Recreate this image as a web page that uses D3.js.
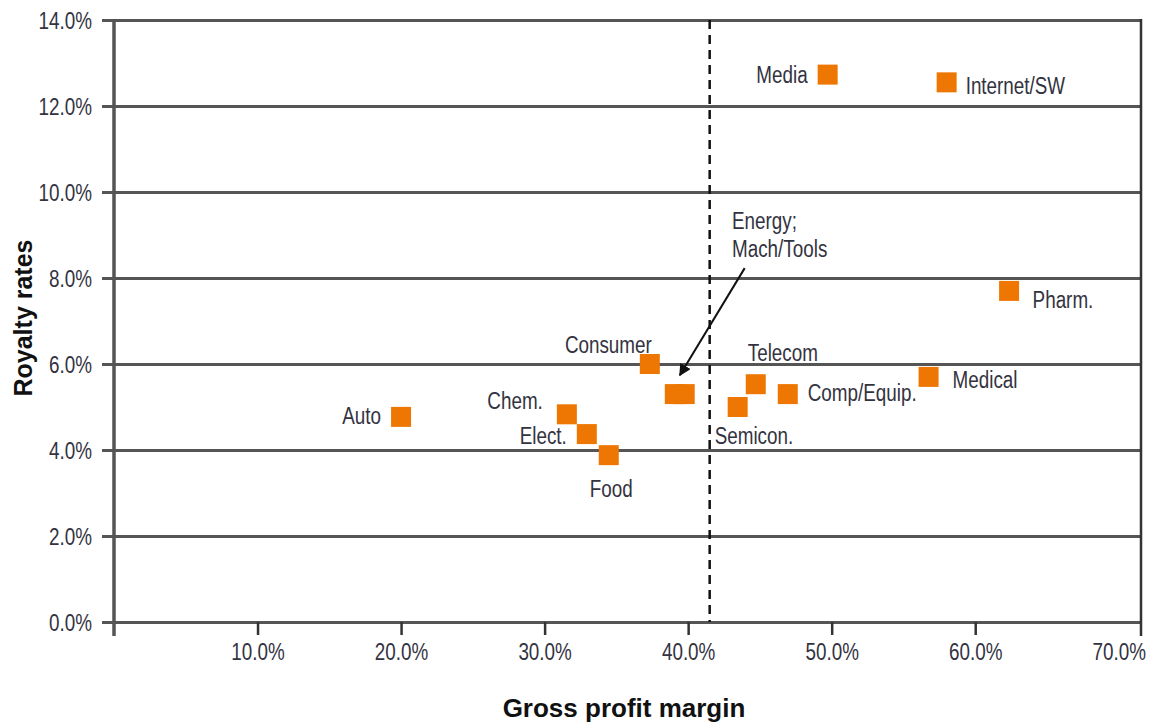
<!DOCTYPE html>
<html>
<head>
<meta charset="utf-8">
<script src="https://cdn.jsdelivr.net/npm/d3@7"></script>
<style>
  body { margin: 0; background: #fff; }
  .tick-label, .pt-label { font-family: "Liberation Sans", Arial, sans-serif; fill: #33333f; }
  .axis-title { font-family: "Liberation Sans", Arial, sans-serif; font-weight: bold; fill: #111; }
</style>
</head>
<body>
<svg id="chart" width="1155" height="722"></svg>
<script>
// industry, gross profit margin, royalty rate
const industries = ["Auto", "Chem.", "Elect.", "Food", "Consumer", "Energy", "Mach/Tools",
    "Semicon.", "Telecom", "Comp/Equip.", "Media", "Medical", "Internet/SW", "Pharm."];
const grossMargin = [0.200, 0.3155, 0.3294, 0.3447, 0.3733, 0.3907, 0.3976,
    0.4345, 0.4471, 0.4694, 0.4972, 0.5675, 0.5801, 0.6236];
const royaltyRate = [0.0477, 0.0483, 0.0437, 0.0388, 0.0600, 0.0530, 0.0530,
    0.0500, 0.0553, 0.0530, 0.1273, 0.0570, 0.1255, 0.0770];

const xTicks = [0.1, 0.2, 0.3, 0.4, 0.5, 0.6, 0.7];
const yTicks = [0, 0.02, 0.04, 0.06, 0.08, 0.10, 0.12, 0.14];
const marginThreshold = 0.415;

// arrow pointing at the Energy / Mach/Tools pair
const arrowFrom = [0.4394, 0.0823];
const arrowTo = [0.3942, 0.0574];

// label placement, px offsets from the marker centre
const labelPos = {
    "Auto": [-20, 7, "end"],
    "Chem.": [-24, -5, "end"],
    "Elect.": [-20, 10, "end"],
    "Food": [-19, 42, "start"],
    "Consumer": [2, -11, "end"],
    "Semicon.": [-23, 37, "start"],
    "Telecom": [-8, -23, "start"],
    "Comp/Equip.": [20, 7, "start"],
    "Media": [-20, 8.5, "end"],
    "Medical": [24, 11, "start"],
    "Internet/SW": [19, 11.5, "start"],
    "Pharm.": [23.5, 17, "start"]
};

const svg = d3.select("#chart");
const plotLeft = 114, plotRight = 1141, plotTop = 20, plotBottom = 622;
const squeeze = 0.82; // fake a condensed face

const x = d3.scaleLinear().domain([0, 0.7155]).range([plotLeft, plotRight]);
const y = d3.scaleLinear().domain([0, 0.14]).range([plotBottom, plotTop]);
const fmt = d3.format(".1%");

const gridColor = "#555";

// horizontal grid lines with short ticks left of the axis
const yAxis = svg.append("g")
    .attr("transform", `translate(${plotLeft},0)`)
    .call(d3.axisLeft(y).tickValues(yTicks).tickSize(-(plotRight - plotLeft)).tickSizeOuter(0).tickFormat(fmt));
yAxis.select(".domain").remove();
yAxis.selectAll(".tick line").attr("x1", -12).attr("stroke", gridColor).attr("stroke-width", 3);
yAxis.selectAll(".tick text").attr("class", "tick-label").style("font-size", "23px")
    .attr("x", -22 / squeeze).attr("dy", "0.36em")
    .attr("transform", `scale(${squeeze},1)`);

// x axis ticks below the 0% line
const xAxis = svg.append("g")
    .attr("transform", `translate(0,${plotBottom})`)
    .call(d3.axisBottom(x).tickValues(xTicks).tickSize(13).tickSizeOuter(0).tickFormat(fmt).tickPadding(8));
xAxis.select(".domain").remove();
xAxis.selectAll(".tick line").attr("stroke", "#333").attr("stroke-width", 2.5)
    .filter(d => d === 0.7).remove();
xAxis.selectAll(".tick text").attr("class", "tick-label").style("font-size", "23px").attr("dy", "0.72em")
    .attr("transform", `scale(${squeeze},1)`);

// frame: left axis and right border, both running past the bottom
svg.append("line").attr("x1", plotLeft).attr("x2", plotLeft).attr("y1", plotTop - 1).attr("y2", plotBottom + 14)
    .attr("stroke", gridColor).attr("stroke-width", 3.5);
svg.append("line").attr("x1", plotRight).attr("x2", plotRight).attr("y1", plotTop - 1).attr("y2", plotBottom + 14)
    .attr("stroke", "#333").attr("stroke-width", 2.5);

// dashed threshold line
svg.append("line")
    .attr("x1", x(marginThreshold)).attr("x2", x(marginThreshold))
    .attr("y1", y(0.14)).attr("y2", y(0))
    .attr("stroke", "#111").attr("stroke-width", 2.5).attr("stroke-dasharray", "9,6");

// markers
const points = industries.map((name, i) => ({ name, gm: grossMargin[i], rr: royaltyRate[i] }));
const size = 20;
svg.append("g").selectAll("rect").data(points).join("rect")
    .attr("x", d => x(d.gm) - size / 2)
    .attr("y", d => y(d.rr) - size / 2)
    .attr("width", size).attr("height", size)
    .attr("fill", "#ee7703");

// point labels
svg.append("g").selectAll("text").data(points.filter(d => labelPos[d.name])).join("text")
    .attr("class", "pt-label")
    .style("font-size", "23px")
    .attr("transform", d => `translate(${x(d.gm) + labelPos[d.name][0]},${y(d.rr) + labelPos[d.name][1]}) scale(${squeeze},1)`)
    .attr("text-anchor", d => labelPos[d.name][2])
    .text(d => d.name);

// annotation for the overlapping pair
const note = svg.append("text").attr("class", "pt-label").style("font-size", "23px")
    .attr("transform", `translate(732,229) scale(${squeeze},1)`);
note.append("tspan").attr("x", 0).text("Energy;");
note.append("tspan").attr("x", 0).attr("dy", 28).text("Mach/Tools");

svg.append("defs").append("marker")
    .attr("id", "arrowhead").attr("viewBox", "0 0 10 10")
    .attr("refX", 9).attr("refY", 5)
    .attr("markerWidth", 6).attr("markerHeight", 6)
    .attr("orient", "auto")
    .append("path").attr("d", "M0,0 L10,5 L0,10 z").attr("fill", "#111");

svg.append("line")
    .attr("x1", x(arrowFrom[0])).attr("y1", y(arrowFrom[1]))
    .attr("x2", x(arrowTo[0])).attr("y2", y(arrowTo[1]))
    .attr("stroke", "#111").attr("stroke-width", 2)
    .attr("marker-end", "url(#arrowhead)");

// axis titles
svg.append("text").attr("class", "axis-title").style("font-size", "26px")
    .attr("x", 624).attr("y", 717).attr("text-anchor", "middle")
    .text("Gross profit margin");
svg.append("text").attr("class", "axis-title").style("font-size", "25px")
    .attr("transform", "translate(32,318) rotate(-90)").attr("text-anchor", "middle")
    .text("Royalty rates");
</script>
</body>
</html>
